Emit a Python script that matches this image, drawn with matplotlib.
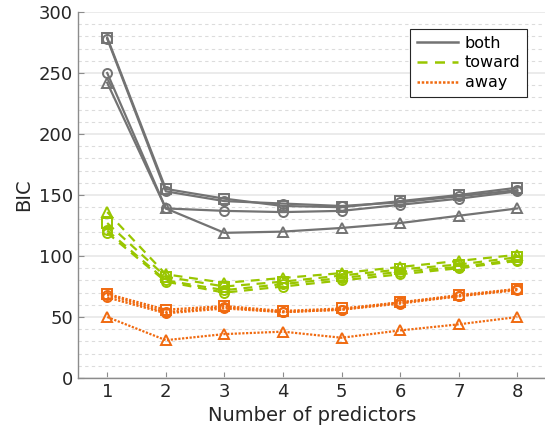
import matplotlib
matplotlib.use("Agg")
import matplotlib.pyplot as plt
from matplotlib.lines import Line2D
from matplotlib.ticker import MultipleLocator

# number of predictors on the x axis
n_predictors = [1, 2, 3, 4, 5, 6, 7, 8]

# BIC values, one list per model
both_1 = [279, 155, 147, 141, 140, 145, 150, 156]
both_2 = [278, 153, 145, 143, 141, 144, 149, 154]
both_3 = [250, 139, 137, 136, 137, 142, 147, 153]
both_4 = [242, 139, 119, 120, 123, 127, 133, 139]

toward_1 = [136, 85, 78, 82, 86, 91, 96, 101]
toward_2 = [127, 83, 75, 79, 84, 89, 93, 99]
toward_3 = [121, 80, 72, 77, 82, 87, 91, 97]
toward_4 = [119, 79, 70, 75, 80, 85, 90, 96]

away_1 = [69, 56, 59, 55, 57, 62, 68, 73]
away_2 = [68, 54, 58, 54, 56, 61, 67, 72]
away_3 = [66, 53, 57, 54, 56, 62, 67, 73]
away_4 = [50, 31, 36, 38, 33, 39, 44, 50]

groups = [
    ("both", [both_1, both_2, both_3, both_4], ["s", "o", "o", "^"], "#737373", "-"),
    ("toward", [toward_1, toward_2, toward_3, toward_4], ["^", "s", "o", "o"], "#99c600", (0, (4, 3))),
    ("away", [away_1, away_2, away_3, away_4], ["s", "o", "o", "^"], "#f06a10", (0, (1, 0.7))),
]

fig = plt.figure(figsize=(5.45, 4.37), dpi=100)
ax = fig.add_axes([0.143, 0.135, 0.86, 0.8375])

handles = []
for name, series, marks, color, ls in groups:
    for vals, m in zip(series, marks):
        ax.plot(n_predictors, vals, color=color, linestyle=ls, linewidth=1.6,
                marker=m, markersize=6.5, markerfacecolor="none",
                markeredgewidth=1.4, zorder=3)
    handles.append(Line2D([], [], color=color, linestyle=ls, linewidth=1.8, label=name))

ax.set_xlim(0.5, 8.5)
ax.set_ylim(0, 300)
ax.set_xticks(n_predictors)
ax.yaxis.set_major_locator(MultipleLocator(50))
ax.yaxis.set_minor_locator(MultipleLocator(10))
ax.grid(axis="y", which="major", color="#e8e8e8", linewidth=1.2, zorder=0)
ax.grid(axis="y", which="minor", color="#dcdcdc", linestyle=(0, (3, 3)), linewidth=0.8, zorder=0)

for side in ["top", "right"]:
    ax.spines[side].set_visible(False)
for side in ["left", "bottom"]:
    ax.spines[side].set_color("#8c8c8c")
    ax.spines[side].set_linewidth(1.0)
ax.tick_params(axis="both", which="both", direction="in", colors="#8c8c8c",
               labelcolor="#262626", labelsize=13)
ax.tick_params(axis="y", which="minor", length=0)
ax.tick_params(axis="x", length=4)
ax.tick_params(axis="y", which="major", length=4)

ax.set_xlabel("Number of predictors", fontsize=14, color="#262626")
ax.set_ylabel("BIC", fontsize=14, color="#262626")

leg = ax.legend(handles=handles, loc="upper right", bbox_to_anchor=(0.975, 0.975),
                fontsize=11.5, frameon=True, fancybox=False, edgecolor="#262626",
                framealpha=1, handlelength=2.6, borderpad=0.4, labelspacing=0.3,
                handletextpad=0.4)
leg.get_frame().set_linewidth(0.8)

fig.savefig("out.png", dpi=100)
